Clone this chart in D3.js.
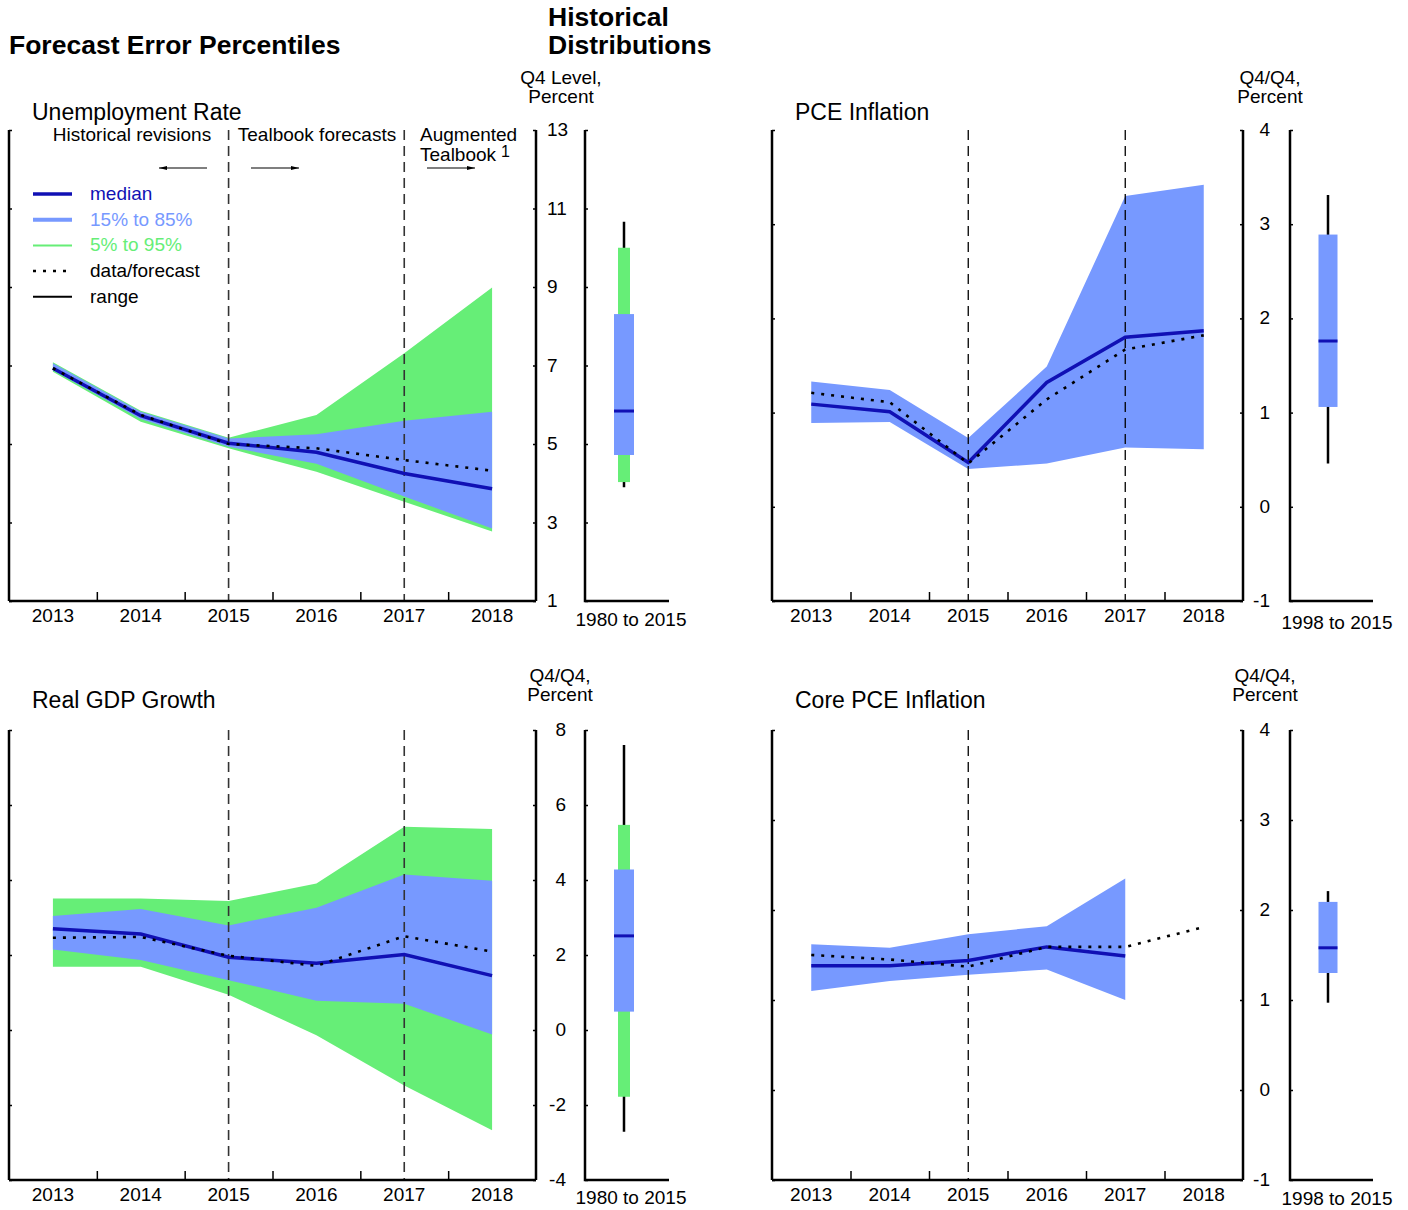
<!DOCTYPE html>
<html>
<head>
<meta charset="utf-8">
<script src="https://cdn.jsdelivr.net/npm/d3@7"></script>
<style>
  body { margin: 0; background: #fff; }
  svg { font-family: "Liberation Sans", Arial, sans-serif; }
</style>
</head>
<body>
<div id="chart"></div>
<script>
// ---- data ----
const years = [2013, 2014, 2015, 2016, 2017, 2018];

// Unemployment rate
const urMedian = [6.93, 5.72, 5.02, 4.79, 4.25, 3.86];
const urData   = [6.93, 5.74, 5.0, 4.89, 4.59, 4.32];
const urP15    = [6.88, 5.64, 4.93, 4.5, 3.66, 2.85];
const urP85    = [7.06, 5.82, 5.14, 5.25, 5.59, 5.82];
const urP05    = [6.84, 5.57, 4.89, 4.29, 3.53, 2.77];
const urP95    = [7.08, 5.85, 5.16, 5.74, 7.31, 8.99];
const urHist   = {lo: 3.9, p05: 4.03, p15: 4.72, med: 5.84, p85: 8.31, p95: 10.0, hi: 10.66};

// PCE inflation
const pceMedian = [1.09, 1.01, 0.47, 1.32, 1.80, 1.87];
const pceData   = [1.21, 1.11, 0.46, 1.14, 1.67, 1.82];
const pceP15    = [0.89, 0.90, 0.40, 0.46, 0.63, 0.61];
const pceP85    = [1.33, 1.24, 0.73, 1.49, 3.30, 3.42];
const pceHist   = {lo: 0.46, p15: 1.06, med: 1.76, p85: 2.89, hi: 3.31};

// Real GDP growth
const gdpMedian = [2.70, 2.56, 1.94, 1.78, 2.01, 1.45];
const gdpData   = [2.46, 2.48, 1.98, 1.71, 2.50, 2.09];
const gdpP15    = [2.15, 1.87, 1.33, 0.78, 0.70, -0.12];
const gdpP85    = [3.04, 3.23, 2.79, 3.26, 4.15, 3.98];
const gdpP05    = [1.69, 1.69, 0.94, -0.14, -1.48, -2.67];
const gdpP95    = [3.51, 3.51, 3.44, 3.91, 5.42, 5.36];
const gdpHist   = {lo: -2.71, p05: -1.78, p15: 0.49, med: 2.51, p85: 4.28, p95: 5.47, hi: 7.60};

// Core PCE inflation
const coreMedian = [1.38, 1.38, 1.44, 1.59, 1.49, null];
const coreData   = [1.50, 1.45, 1.37, 1.59, 1.59, 1.81];
const coreP15    = [1.10, 1.21, 1.28, 1.34, 1.0, null];
const coreP85    = [1.62, 1.58, 1.73, 1.82, 2.35, null];
const coreHist   = {lo: 0.97, p15: 1.30, med: 1.58, p85: 2.09, hi: 2.21};

const COL_MED = "#1010b4";
const COL_BLUE = "#7799ff";
const COL_GREEN = "#66ee77";
const FS = 19;

const svg = d3.select("#chart").append("svg")
  .attr("width", 1408).attr("height", 1210);

// headers
svg.append("text").attr("x", 9).attr("y", 54)
  .attr("font-size", 26.5).attr("font-weight", "bold").text("Forecast Error Percentiles");
svg.append("text").attr("x", 548).attr("y", 26)
  .attr("font-size", 26.5).attr("font-weight", "bold").text("Historical");
svg.append("text").attr("x", 548).attr("y", 54)
  .attr("font-size", 26.5).attr("font-weight", "bold").text("Distributions");

function drawPanel(cfg) {
  const g = svg.append("g");
  const x = d3.scaleLinear().domain([2012.5, 2018.5]).range([cfg.x0, cfg.x1]);
  const y = d3.scaleLinear().domain(cfg.yDomain).range([cfg.y1, cfg.y0]);
  const yTicks = d3.range(cfg.yDomain[0], cfg.yDomain[1] + 0.001, cfg.yStep);

  // title and unit label
  g.append("text").attr("x", cfg.x0 + 23).attr("y", cfg.titleY)
    .attr("font-size", 23).text(cfg.title);
  cfg.unit.forEach((t, i) => {
    g.append("text").attr("x", cfg.unitX).attr("y", cfg.unitY + i * 19)
      .attr("text-anchor", "middle").attr("font-size", FS).text(t);
  });

  // bands
  const area = (lo, hi) => d3.area()
    .defined((d, i) => lo[i] != null && hi[i] != null)
    .x((d, i) => x(years[i]))
    .y0((d, i) => y(lo[i]))
    .y1((d, i) => y(hi[i]));
  if (cfg.p05) {
    g.append("path").datum(years).attr("fill", COL_GREEN)
      .attr("d", area(cfg.p05, cfg.p95));
  }
  g.append("path").datum(years).attr("fill", COL_BLUE)
    .attr("d", area(cfg.p15, cfg.p85));

  // vertical dashed lines
  cfg.dashed.forEach(yr => {
    g.append("line")
      .attr("x1", x(yr)).attr("x2", x(yr))
      .attr("y1", cfg.y0).attr("y2", cfg.y1)
      .attr("stroke", cfg.dashColor).attr("stroke-width", cfg.dashWidth)
      .attr("stroke-dasharray", "10,6");
  });

  const line = vals => d3.line()
    .defined((d, i) => vals[i] != null)
    .x((d, i) => x(years[i]))
    .y((d, i) => y(vals[i]));

  g.append("path").datum(years).attr("fill", "none")
    .attr("stroke", COL_MED).attr("stroke-width", 3.5)
    .attr("d", line(cfg.median));
  g.append("path").datum(years).attr("fill", "none")
    .attr("stroke", "#000").attr("stroke-width", 2.6)
    .attr("stroke-dasharray", "3,7")
    .attr("d", line(cfg.data));

  // axes
  const axL = g.append("g").attr("transform", `translate(${cfg.x0},0)`)
    .call(d3.axisRight(y).tickValues(yTicks).tickSize(3).tickFormat(""));
  const axR = g.append("g").attr("transform", `translate(${cfg.x1},0)`)
    .call(d3.axisLeft(y).tickValues(yTicks).tickSize(3).tickFormat(""));
  const axB = g.append("g").attr("transform", `translate(0,${cfg.y1})`)
    .call(d3.axisTop(x).tickValues([2013.5, 2014.5, 2015.5, 2016.5, 2017.5]).tickSize(9).tickFormat(""));
  [axL, axR, axB].forEach(a => {
    a.select(".domain").attr("stroke", "#000").attr("stroke-width", 2.5);
    a.selectAll(".tick line").attr("stroke", "#000").attr("stroke-width", 1.5);
  });
  axB.select(".domain").attr("d", `M${cfg.x0},0H${cfg.x1}`);
  axL.select(".domain").attr("d", `M0,${cfg.y0}V${cfg.y1}`);
  axR.select(".domain").attr("d", `M0,${cfg.y0}V${cfg.y1}`);

  // year labels
  years.forEach(yr => {
    g.append("text").attr("x", x(yr)).attr("y", cfg.y1 + 21)
      .attr("text-anchor", "middle").attr("font-size", FS).text(yr);
  });

  // y tick labels on right
  yTicks.forEach(v => {
    g.append("text").attr("x", cfg.labX).attr("y", y(v) + 6)
      .attr("text-anchor", cfg.labAnchor).attr("font-size", FS).text(v);
  });

  // historical distribution
  const hx = cfg.histX;
  const hg = g.append("g");
  const h = cfg.hist;
  hg.append("line").attr("x1", hx.c).attr("x2", hx.c)
    .attr("y1", y(h.hi)).attr("y2", y(h.lo))
    .attr("stroke", "#000").attr("stroke-width", 2.5);
  if (h.p05 != null) {
    hg.append("rect").attr("x", hx.c - 6).attr("width", 12)
      .attr("y", y(h.p95)).attr("height", y(h.p05) - y(h.p95))
      .attr("fill", COL_GREEN);
  }
  hg.append("rect").attr("x", hx.c - hx.w / 2).attr("width", hx.w)
    .attr("y", y(h.p85)).attr("height", y(h.p15) - y(h.p85))
    .attr("fill", COL_BLUE);
  hg.append("line").attr("x1", hx.c - hx.w / 2).attr("x2", hx.c + hx.w / 2)
    .attr("y1", y(h.med)).attr("y2", y(h.med))
    .attr("stroke", COL_MED).attr("stroke-width", 3);

  const hAx = g.append("g").attr("transform", `translate(${hx.axis},0)`)
    .call(d3.axisRight(y).tickValues(yTicks).tickSize(3).tickFormat(""));
  hAx.select(".domain").attr("d", `M0,${cfg.y0}V${cfg.y1}H${hx.end - hx.axis}`)
    .attr("stroke", "#000").attr("stroke-width", 2.5).attr("fill", "none");
  hAx.selectAll(".tick line").attr("stroke", "#000").attr("stroke-width", 1.5);
  g.append("text").attr("x", hx.labX).attr("y", cfg.y1 + cfg.histLabelDy)
    .attr("text-anchor", "middle").attr("font-size", FS).text(cfg.histLabel);

  return {g, x, y};
}

drawPanel({
  title: "Unemployment Rate", titleY: 120, unit: ["Q4 Level,", "Percent"], unitX: 561, unitY: 84,
  x0: 9, x1: 536, y0: 130, y1: 601, yDomain: [1, 13], yStep: 2,
  median: urMedian, data: urData, p15: urP15, p85: urP85, p05: urP05, p95: urP95,
  dashed: [2015, 2017], dashColor: "#333", dashWidth: 1.6, labX: 547, labAnchor: "start",
  hist: urHist, histX: {axis: 585, end: 669, c: 624, w: 20, labX: 631},
  histLabel: "1980 to 2015", histLabelDy: 25
});

drawPanel({
  title: "PCE Inflation", titleY: 120, unit: ["Q4/Q4,", "Percent"], unitX: 1270, unitY: 84,
  x0: 772, x1: 1243, y0: 130, y1: 601, yDomain: [-1, 4], yStep: 1,
  median: pceMedian, data: pceData, p15: pceP15, p85: pceP85,
  dashed: [2015, 2017], dashColor: "#000", dashWidth: 1.3, labX: 1270, labAnchor: "end",
  hist: pceHist, histX: {axis: 1290, end: 1373, c: 1328, w: 19, labX: 1337},
  histLabel: "1998 to 2015", histLabelDy: 28
});

drawPanel({
  title: "Real GDP Growth", titleY: 708, unit: ["Q4/Q4,", "Percent"], unitX: 560, unitY: 682,
  x0: 9, x1: 536, y0: 730, y1: 1180, yDomain: [-4, 8], yStep: 2,
  median: gdpMedian, data: gdpData, p15: gdpP15, p85: gdpP85, p05: gdpP05, p95: gdpP95,
  dashed: [2015, 2017], dashColor: "#333", dashWidth: 1.6, labX: 566, labAnchor: "end",
  hist: gdpHist, histX: {axis: 585, end: 669, c: 624, w: 20, labX: 631},
  histLabel: "1980 to 2015", histLabelDy: 24
});

drawPanel({
  title: "Core PCE Inflation", titleY: 708, unit: ["Q4/Q4,", "Percent"], unitX: 1265, unitY: 682,
  x0: 772, x1: 1243, y0: 730, y1: 1180, yDomain: [-1, 4], yStep: 1,
  median: coreMedian, data: coreData, p15: coreP15, p85: coreP85,
  dashed: [2015], dashColor: "#000", dashWidth: 1.3, labX: 1270, labAnchor: "end",
  hist: coreHist, histX: {axis: 1290, end: 1373, c: 1328, w: 19, labX: 1337},
  histLabel: "1998 to 2015", histLabelDy: 25
});

// annotations on the unemployment panel
const ann = svg.append("g").attr("font-size", FS);
ann.append("text").attr("x", 132).attr("y", 141).attr("text-anchor", "middle").text("Historical revisions");
ann.append("text").attr("x", 317).attr("y", 141).attr("text-anchor", "middle").text("Tealbook forecasts");
ann.append("text").attr("x", 420).attr("y", 141).text("Augmented");
ann.append("text").attr("x", 420).attr("y", 161).text("Tealbook");
ann.append("text").attr("x", 501).attr("y", 157).attr("font-size", 16).text("1");

const arrow = (xa, xb) => {
  const dir = Math.sign(xb - xa);
  ann.append("line").attr("x1", xa).attr("x2", xb).attr("y1", 168).attr("y2", 168)
    .attr("stroke", "#000").attr("stroke-width", 1.2);
  ann.append("path")
    .attr("d", `M${xb},168L${xb - dir * 8},166L${xb - dir * 8},170Z`)
    .attr("fill", "#000");
};
arrow(207, 159);
arrow(251, 299);
arrow(427, 475);

// legend
const legendItems = [
  {label: "median", color: COL_MED, width: 3.5, dash: null, text: COL_MED},
  {label: "15% to 85%", color: COL_BLUE, width: 4, dash: null, text: COL_BLUE},
  {label: "5% to 95%", color: COL_GREEN, width: 2, dash: null, text: COL_GREEN},
  {label: "data/forecast", color: "#000", width: 2.5, dash: "3,7", text: "#000"},
  {label: "range", color: "#000", width: 2, dash: null, text: "#000"}
];
const leg = svg.append("g");
legendItems.forEach((d, i) => {
  const ly = 194 + i * 25.7;
  leg.append("line").attr("x1", 33).attr("x2", 72).attr("y1", ly).attr("y2", ly)
    .attr("stroke", d.color).attr("stroke-width", d.width)
    .attr("stroke-dasharray", d.dash);
  leg.append("text").attr("x", 90).attr("y", ly + 6)
    .attr("font-size", FS).attr("fill", d.text).text(d.label);
});
</script>
</body>
</html>
